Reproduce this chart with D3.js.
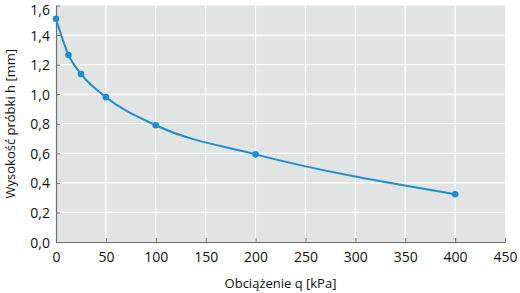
<!DOCTYPE html>
<html lang="pl">
<head>
<meta charset="UTF-8">
<title>Wysokość próbki</title>
<style>
    body { margin: 0; background: #fff; }
    text { font-family: "Open Sans", "DejaVu Sans", sans-serif; }
</style>
</head>
<body>
<script src="https://d3js.org/d3.v7.min.js"></script>
<script>
    // data
    const loads = [0, 12.5, 25, 50, 100, 200, 400];
    const heights = [1.51, 1.265, 1.137, 0.98, 0.79, 0.593, 0.323];
    const xTicks = [0, 50, 100, 150, 200, 250, 300, 350, 400, 450];
    const yTicks = [0, 0.2, 0.4, 0.6, 0.8, 1.0, 1.2, 1.4, 1.6];
    const xTitle = "Obciążenie q [kPa]";
    const yTitle = "Wysokość próbki h [mm]";

    const width = 520, height = 293;
    const mLeft = 56, mRight = 505, mTop = 5.5, mBottom = 242;

    const svg = d3.select("body").append("svg")
        .attr("width", width)
        .attr("height", height);

    const x = d3.scaleLinear().domain([0, 450]).range([mLeft, mRight]);
    const y = d3.scaleLinear().domain([0, 1.6]).range([mBottom, mTop]);
    const fmt = d => d3.format(".1f")(d).replace(".", ",");

    // plot background
    svg.append("rect")
        .attr("x", mLeft).attr("y", mTop)
        .attr("width", mRight - mLeft).attr("height", mBottom - mTop)
        .attr("fill", "#e2e3e3");

    // grid
    svg.append("g").selectAll("line").data(xTicks.slice(1, -1)).join("line")
        .attr("x1", d => x(d)).attr("x2", d => x(d))
        .attr("y1", mTop).attr("y2", mBottom)
        .attr("stroke", "#fff").attr("stroke-width", 1.2);
    svg.append("g").selectAll("line").data(yTicks.slice(1, -1)).join("line")
        .attr("x1", mLeft).attr("x2", mRight)
        .attr("y1", d => y(d)).attr("y2", d => y(d))
        .attr("stroke", "#fff").attr("stroke-width", 1.2);

    // axes, ticks pointing inward
    const xAxis = svg.append("g")
        .attr("transform", `translate(0,${mBottom})`)
        .call(d3.axisBottom(x).tickValues(xTicks).tickSize(-4).tickPadding(9).tickSizeOuter(0));
    const yAxis = svg.append("g")
        .attr("transform", `translate(${mLeft},0)`)
        .call(d3.axisLeft(y).tickValues(yTicks).tickFormat(fmt).tickSize(-4).tickPadding(6).tickSizeOuter(0));

    [xAxis, yAxis].forEach(a => {
        a.select(".domain").attr("stroke", "#6f6f6f").attr("stroke-width", 1.2);
        a.selectAll(".tick line").attr("stroke", "#6f6f6f");
        a.selectAll(".tick text")
            .attr("fill", "#111")
            .style("font-size", "14px")
            .style("font-family", "'Open Sans', sans-serif");
    });
    yAxis.selectAll(".tick text").attr("dy", "0.36em");
    // keep the top label inside the picture
    yAxis.selectAll(".tick text").filter(d => d === 1.6).attr("y", 4);
    xAxis.selectAll(".tick text").attr("dy", "0.78em");

    // titles
    svg.append("text")
        .attr("x", (mLeft + mRight) / 2)
        .attr("y", 288)
        .attr("text-anchor", "middle")
        .attr("fill", "#111")
        .style("font-size", "13px")
        .text(xTitle);
    svg.append("text")
        .attr("transform", `translate(15,${(mTop + mBottom) / 2}) rotate(-90)`)
        .attr("text-anchor", "middle")
        .attr("fill", "#111")
        .style("font-size", "13px")
        .text(yTitle);

    // line and points
    const pts = loads.map((q, i) => ({ q: q, h: heights[i] }));
    svg.append("path")
        .datum(pts)
        .attr("fill", "none")
        .attr("stroke", "#1d8fcc")
        .attr("stroke-width", 2)
        .attr("d", d3.line()
            .x(d => x(d.q))
            .y(d => y(d.h))
            .curve(d3.curveMonotoneX));
    svg.append("g").selectAll("circle").data(pts).join("circle")
        .attr("cx", d => x(d.q))
        .attr("cy", d => y(d.h))
        .attr("r", 3.3)
        .attr("fill", "#1d8fcc");
</script>
</body>
</html>
